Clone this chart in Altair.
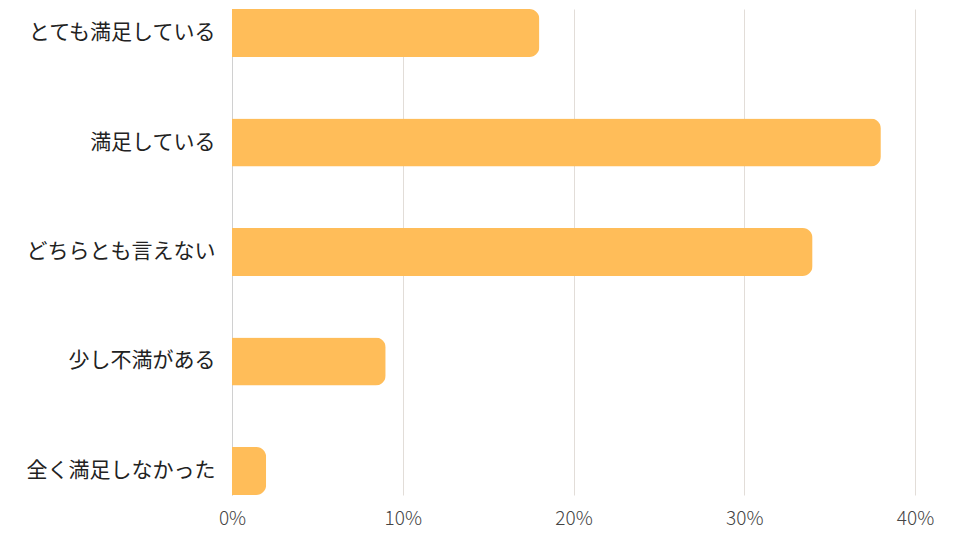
import altair as alt
import pandas as pd

categories = ["とても満足している", "満足している", "どちらとも言えない", "少し不満がある", "全く満足しなかった"]
values = [18, 38, 34, 9, 2]

df = pd.DataFrame({"category": categories, "value": [v / 100 for v in values]})

FONT = "Noto Sans CJK JP"

chart = (
    alt.Chart(df)
    .mark_bar(color="#FFBD59", cornerRadiusEnd=10)
    .encode(
        x=alt.X(
            "value:Q",
            scale=alt.Scale(domain=[0, 0.4], nice=False),
            axis=alt.Axis(
                format="%",
                values=[0, 0.1, 0.2, 0.3, 0.4],
                title=None,
                domain=False,
                ticks=False,
                grid=True,
                gridColor="#e2ddd8",
                gridWidth=1,
                labelFont=FONT,
                labelFontSize=19,
                labelFontWeight=300,
                labelColor="#444444",
                labelPadding=14,
                labelFlush=False,
            ),
        ),
        y=alt.Y(
            "category:N",
            sort=categories,
            scale=alt.Scale(paddingInner=0.5616, paddingOuter=0),
            axis=alt.Axis(
                title=None,
                domain=True,
                domainColor="#d0d0d0",
                ticks=False,
                labelFont=FONT,
                labelFontSize=21,
                labelFontWeight=400,
                labelColor="#222222",
                labelPadding=17,
                labelLimit=300,
            ),
        ),
    )
    .properties(
        width=683,
        height=486,
        autosize=alt.AutoSizeParams(type="none"),
        padding={"left": 232, "top": 9, "right": 45, "bottom": 45},
        background="white",
    )
    .configure_view(strokeWidth=0, stroke="transparent")
)

chart.save("out.html", embed_options={"renderer": "svg", "actions": False})
